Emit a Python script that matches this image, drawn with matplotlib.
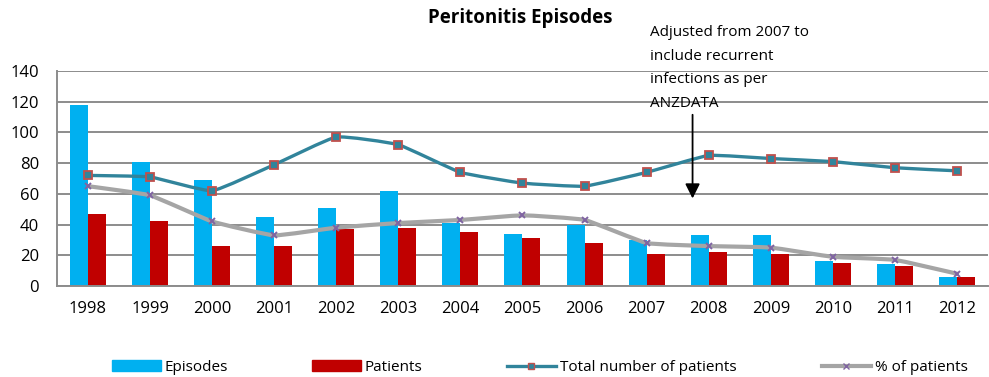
import matplotlib
matplotlib.use("Agg")
import matplotlib.pyplot as plt
import numpy as np
from matplotlib.path import Path
from matplotlib.patches import PathPatch, Patch
from matplotlib.lines import Line2D

years = ["1998", "1999", "2000", "2001", "2002", "2003", "2004", "2005",
         "2006", "2007", "2008", "2009", "2010", "2011", "2012"]
episodes = [118, 81, 69, 45, 51, 62, 41, 34, 40, 30, 33, 33, 16, 14, 6]
patients = [47, 42, 26, 26, 37, 38, 35, 31, 28, 21, 22, 21, 15, 13, 6]
total_patients = [72, 71, 62, 79, 97, 92, 74, 67, 65, 74, 85, 83, 81, 77, 75]
pct_patients = [65, 59, 42, 33, 38, 41, 43, 46, 43, 28, 26, 25, 19, 17, 8]

C_EPI, C_PAT = "#00b0f0", "#c00000"
C_TOT, C_TOT_MK = "#31849b", "#c0504d"
C_PCT, C_PCT_MK = "#a5a5a5", "#8064a2"
GRID = "#8c8c8c"

plt.rcParams["font.family"] = ["Open Sans", "DejaVu Sans"]


def smooth_path(xs, ys, k=16.0):
    """Gently smoothed polyline (cardinal spline as cubic Beziers)."""
    pts = list(zip(xs, ys))
    verts = [pts[0]]
    codes = [Path.MOVETO]
    n = len(pts)
    for i in range(n - 1):
        p0 = pts[i - 1] if i > 0 else pts[i]
        p1, p2 = pts[i], pts[i + 1]
        p3 = pts[i + 2] if i + 2 < n else pts[i + 1]
        c1 = (p1[0] + (p2[0] - p0[0]) / k, p1[1] + (p2[1] - p0[1]) / k)
        c2 = (p2[0] - (p3[0] - p1[0]) / k, p2[1] - (p3[1] - p1[1]) / k)
        verts += [c1, c2, p2]
        codes += [Path.CURVE4] * 3
    return Path(verts, codes)


fig = plt.figure(figsize=(9.89, 3.77), dpi=100)
ax = fig.add_axes([0.0576, 0.2414, 0.9414, 0.5703])

x = np.arange(len(years))
w = 0.29
ax.bar(x - w / 2, episodes, w, color=C_EPI, zorder=2)
ax.bar(x + w / 2, patients, w, color=C_PAT, zorder=2)

ax.add_patch(PathPatch(smooth_path(x, total_patients), fill=False,
                       edgecolor=C_TOT, lw=2.4, zorder=3, capstyle="round"))
ax.plot(x, total_patients, ls="none", marker="s", ms=5.5, mfc=C_TOT,
        mec=C_TOT_MK, mew=1.3, zorder=4)
ax.add_patch(PathPatch(smooth_path(x, pct_patients), fill=False,
                       edgecolor=C_PCT, lw=3.0, zorder=3, capstyle="round"))
ax.plot(x, pct_patients, ls="none", marker="x", ms=5, mec=C_PCT_MK,
        mew=1.4, zorder=4)

ax.set_xlim(-0.5, len(years) - 0.5)
ax.set_ylim(0, 140)
ax.set_yticks(range(0, 141, 20))
ax.set_xticks(x)
ax.set_xticklabels(years)
ax.yaxis.grid(True, color=GRID, lw=1.4, zorder=0)
ax.set_axisbelow(True)
for s in ("top", "right"):
    ax.spines[s].set_visible(False)
for s in ("left", "bottom"):
    ax.spines[s].set_color(GRID)
    ax.spines[s].set_linewidth(1.4)
ax.tick_params(length=0, labelsize=12, colors="black")
ax.tick_params(axis="y", pad=13)
ax.tick_params(axis="x", pad=11)

fig.text(0.526, 0.952, "Peritonitis Episodes", ha="center", va="center",
         fontsize=13.5, fontweight="bold")

fig.text(0.657, 0.933, "Adjusted from 2007 to\ninclude recurrent\n"
         "infections as per\nANZDATA", ha="left", va="top", fontsize=11,
         linespacing=1.77)
ax.annotate("", xy=(9.74, 57), xytext=(9.74, 111.5),
            arrowprops=dict(arrowstyle="-|>", color="black", lw=1.3,
                            mutation_scale=22, shrinkA=0, shrinkB=0),
            zorder=5)

# legend entries placed one by one along the bottom
entries = [
    (Patch(color=C_EPI), "Episodes", 112),
    (Patch(color=C_PAT), "Patients", 312),
    (Line2D([], [], color=C_TOT, lw=2.4, marker="s", ms=5, mfc=C_TOT,
            mec=C_TOT_MK), "Total number of patients", 507),
    (Line2D([], [], color=C_PCT, lw=3.0, marker="x", ms=5, mec=C_PCT_MK),
     "% of patients", 822),
]
for handle, label, px in entries:
    fig.legend([handle], [label], loc="center left",
               bbox_to_anchor=(px / 989, 0.025), frameon=False,
               fontsize=11, handlelength=3.2, handleheight=0.75,
               handletextpad=0.25, borderpad=0, borderaxespad=0)

fig.savefig("out.png", dpi=100)
